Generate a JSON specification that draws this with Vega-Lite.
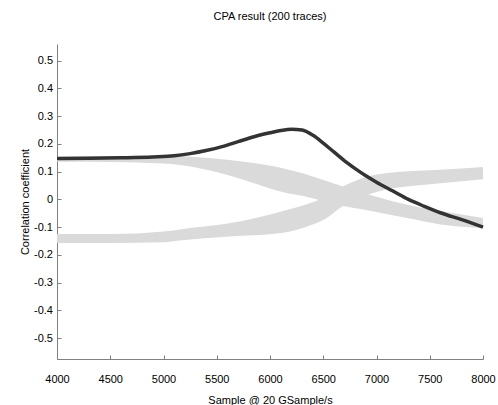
{
  "$schema": "https://vega.github.io/schema/vega-lite/v6.json",
  "width": 426,
  "height": 315,
  "autosize": "none",
  "padding": {"left": 57, "top": 44, "right": 15, "bottom": 46},
  "title": {"text": "CPA result (200 traces)", "font": "Liberation Sans", "fontSize": 11, "fontWeight": "normal", "color": "#000000", "offset": 22, "anchor": "middle"},
  "config": {
    "view": {"stroke": null},
    "axis": {"grid": false, "domainColor": "#808080", "tickColor": "#808080", "labelFont": "Liberation Sans", "labelFontSize": 11, "labelColor": "#000000", "titleFont": "Liberation Sans", "titleFontSize": 11, "titleFontWeight": "normal", "titleColor": "#000000", "tickSize": -4, "labelOverlap": false, "labelBound": false, "labelFlush": false}
  },
  "datasets": {
    "bands": [
      {"band": "A", "sample": 4000, "hi": 0.154, "lo": 0.136},
      {"band": "A", "sample": 4500, "hi": 0.156, "lo": 0.135},
      {"band": "A", "sample": 5000, "hi": 0.157, "lo": 0.129},
      {"band": "A", "sample": 5300, "hi": 0.153, "lo": 0.115},
      {"band": "A", "sample": 5620, "hi": 0.142, "lo": 0.086},
      {"band": "A", "sample": 5850, "hi": 0.131, "lo": 0.058},
      {"band": "A", "sample": 6089, "hi": 0.115, "lo": 0.029},
      {"band": "A", "sample": 6400, "hi": 0.083, "lo": 0.004},
      {"band": "A", "sample": 6500, "hi": 0.070, "lo": -0.007},
      {"band": "A", "sample": 6700, "hi": 0.045, "lo": -0.025},
      {"band": "A", "sample": 7000, "hi": 0.010, "lo": -0.045},
      {"band": "A", "sample": 7300, "hi": -0.020, "lo": -0.068},
      {"band": "A", "sample": 7600, "hi": -0.042, "lo": -0.090},
      {"band": "A", "sample": 8000, "hi": -0.067, "lo": -0.103},
      {"band": "B", "sample": 4000, "hi": -0.125, "lo": -0.157},
      {"band": "B", "sample": 4500, "hi": -0.125, "lo": -0.157},
      {"band": "B", "sample": 5000, "hi": -0.116, "lo": -0.154},
      {"band": "B", "sample": 5150, "hi": -0.108, "lo": -0.148},
      {"band": "B", "sample": 5620, "hi": -0.086, "lo": -0.134},
      {"band": "B", "sample": 6089, "hi": -0.045, "lo": -0.122},
      {"band": "B", "sample": 6400, "hi": -0.010, "lo": -0.090},
      {"band": "B", "sample": 6500, "hi": 0.005, "lo": -0.074},
      {"band": "B", "sample": 6700, "hi": 0.050, "lo": -0.020},
      {"band": "B", "sample": 7000, "hi": 0.090, "lo": 0.027},
      {"band": "B", "sample": 7400, "hi": 0.103, "lo": 0.051},
      {"band": "B", "sample": 7600, "hi": 0.107, "lo": 0.058},
      {"band": "B", "sample": 8000, "hi": 0.117, "lo": 0.073}
    ],
    "key": [
      {"sample": 4000, "corr": 0.147},
      {"sample": 4300, "corr": 0.148},
      {"sample": 4600, "corr": 0.150},
      {"sample": 4900, "corr": 0.153},
      {"sample": 5100, "corr": 0.157},
      {"sample": 5250, "corr": 0.165},
      {"sample": 5400, "corr": 0.176},
      {"sample": 5550, "corr": 0.190},
      {"sample": 5700, "corr": 0.208},
      {"sample": 5850, "corr": 0.226},
      {"sample": 6000, "corr": 0.240},
      {"sample": 6100, "corr": 0.248},
      {"sample": 6200, "corr": 0.253},
      {"sample": 6300, "corr": 0.250},
      {"sample": 6400, "corr": 0.232},
      {"sample": 6500, "corr": 0.203},
      {"sample": 6600, "corr": 0.171},
      {"sample": 6700, "corr": 0.139},
      {"sample": 6800, "corr": 0.111},
      {"sample": 6900, "corr": 0.085},
      {"sample": 7000, "corr": 0.062},
      {"sample": 7150, "corr": 0.031},
      {"sample": 7300, "corr": 0.000},
      {"sample": 7450, "corr": -0.025},
      {"sample": 7600, "corr": -0.048},
      {"sample": 7800, "corr": -0.073},
      {"sample": 8000, "corr": -0.100}
    ]
  },
  "layer": [
    {
      "data": {"name": "bands"},
      "mark": {"type": "area", "interpolate": "monotone", "color": "#dadada"},
      "encoding": {
        "x": {"field": "sample", "type": "quantitative", "scale": {"domain": [4000, 8000], "nice": false}, "axis": {"values": [4000, 4500, 5000, 5500, 6000, 6500, 7000, 7500, 8000], "tickCount": 20, "labelExpr": "toString(datum.value)", "labelOverlap": false, "labelPadding": 18, "title": "Sample @ 20 GSample/s", "titlePadding": 10}},
        "y": {"field": "hi", "type": "quantitative", "scale": {"domain": [-0.575, 0.56], "nice": false, "zero": false}, "axis": {"values": [-0.5, -0.4, -0.3, -0.2, -0.1, 0, 0.1, 0.2, 0.3, 0.4, 0.5], "tickCount": 20, "labelExpr": "toString(datum.value)", "labelOverlap": false, "labelPadding": 8.5, "title": "Correlation coefficient", "titlePadding": 3.5}},
        "y2": {"field": "lo"},
        "detail": {"field": "band"}
      }
    },
    {
      "data": {"name": "key"},
      "mark": {"type": "line", "interpolate": "monotone", "color": "#333333", "strokeWidth": 3.5},
      "encoding": {
        "x": {"field": "sample", "type": "quantitative"},
        "y": {"field": "corr", "type": "quantitative"}
      }
    }
  ]
}
